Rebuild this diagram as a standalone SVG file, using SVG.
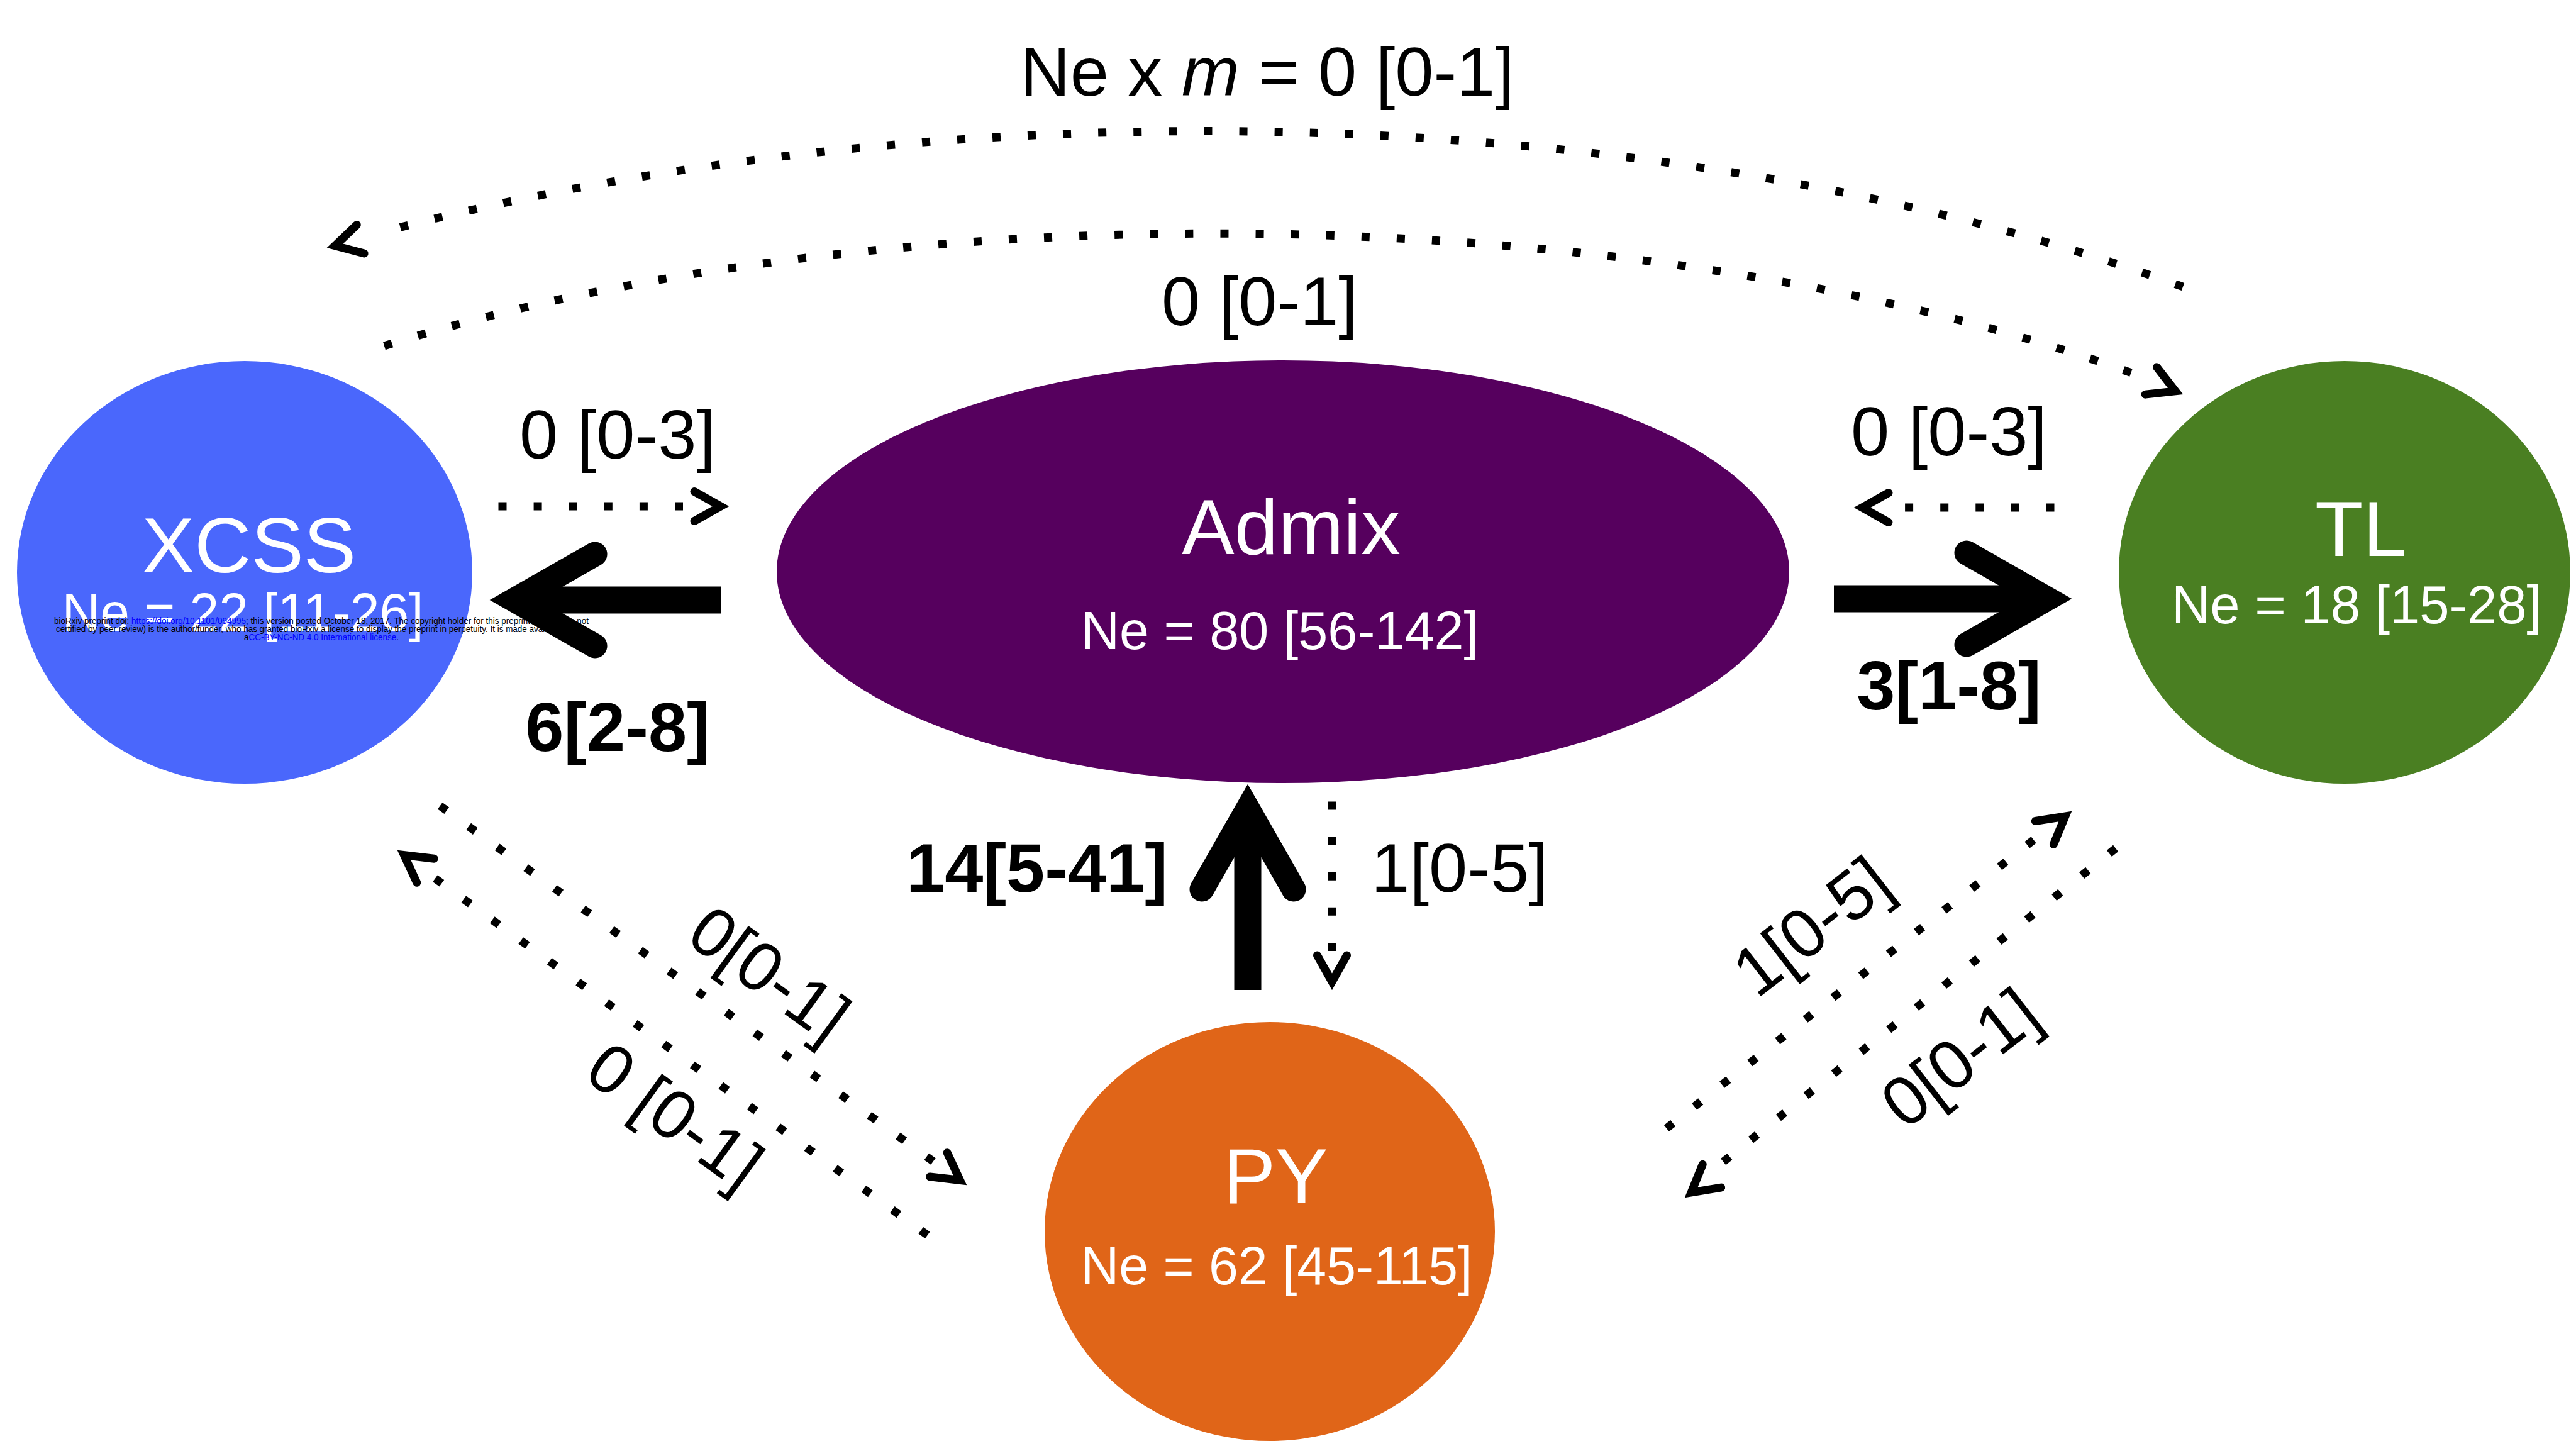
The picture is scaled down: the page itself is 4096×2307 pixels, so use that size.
<svg xmlns="http://www.w3.org/2000/svg" xmlns:xlink="http://www.w3.org/1999/xlink" width="4096" height="2307" viewBox="0 0 4096 2307">
  <style>
    .lbl { font-family: "Liberation Sans", Arial, sans-serif; fill: #000; }
    .reg { font-size: 110px; }
    .bold { font-size: 110px; font-weight: bold; }
    .ntitle { font-family: "Liberation Sans", Arial, sans-serif; fill: #fff; font-size: 125px; text-anchor: middle; }
    .nsub { font-family: "Liberation Sans", Arial, sans-serif; fill: #fff; font-size: 86px; text-anchor: middle; }
    .dot { fill: none; stroke: #000; stroke-width: 13; stroke-dasharray: 13 43.1; }
    .shaft { fill: none; stroke: #000; stroke-width: 43; }
    .hthick { fill: none; stroke: #000; stroke-width: 39; stroke-linejoin: miter; stroke-linecap: round; }
    .hthin { fill: none; stroke: #000; stroke-width: 13; stroke-linejoin: miter; stroke-linecap: round; }
    .wm { font-family: "Liberation Sans", Arial, sans-serif; font-size: 15px; fill: #000; text-anchor: middle; }
    .link { fill: #0000ff; }
  </style>
  <defs>
    <path id="hThick" class="hthick" d="M-167,-73 L-39,0 L-167,73"/>
    <path id="hThin" class="hthin" d="M-55,-23.5 L-13,0 L-55,23.5"/>
  </defs>
  <rect width="4096" height="2307" fill="#fff"/>

  <g id="node-xcss">
    <ellipse cx="389" cy="910" rx="362" ry="336" fill="#4a67fc"/>
    <text class="ntitle" x="396" y="910">XCSS</text>
    <text class="nsub" x="386" y="1003" font-size="89" textLength="575" lengthAdjust="spacingAndGlyphs">Ne = 22 [11-26]</text>
  </g>
  <g id="node-admix">
    <ellipse cx="2040" cy="909" rx="805" ry="336" fill="#56005e"/>
    <text class="ntitle" x="2053" y="881">Admix</text>
    <text class="nsub" x="2035" y="1032" textLength="632" lengthAdjust="spacingAndGlyphs">Ne = 80 [56-142]</text>
  </g>
  <g id="node-tl">
    <ellipse cx="3728" cy="910" rx="359" ry="336" fill="#4a7f22"/>
    <text class="ntitle" x="3754" y="884">TL</text>
    <text class="nsub" x="3747" y="991" textLength="588" lengthAdjust="spacingAndGlyphs">Ne = 18 [15-28]</text>
  </g>
  <g id="node-py">
    <ellipse cx="2019" cy="1958" rx="358" ry="333" fill="#e06518"/>
    <text class="ntitle" x="2028" y="1913">PY</text>
    <text class="nsub" x="2030" y="2042" textLength="623" lengthAdjust="spacingAndGlyphs">Ne = 62 [45-115]</text>
  </g>

  <g id="watermark">
    <text class="wm" x="511" y="992" textLength="850" lengthAdjust="spacingAndGlyphs">bioRxiv preprint doi: <tspan class="link">https://doi.org/10.1101/094995</tspan>; this version posted October 18, 2017. The copyright holder for this preprint (which was not</text>
    <text class="wm" x="511" y="1005" textLength="844" lengthAdjust="spacingAndGlyphs">certified by peer review) is the author/funder, who has granted bioRxiv a license to display the preprint in perpetuity. It is made available under</text>
    <text class="wm" x="511" y="1018" textLength="246" lengthAdjust="spacingAndGlyphs">a<tspan class="link">CC-BY-NC-ND 4.0 International license</tspan>.</text>
  </g>

  <g id="connectors">
    <!-- top arcs -->
    <path class="dot" d="M3471,456 C2620,146 1470,138 596,372"/>
    <use xlink:href="#hThin" transform="translate(520,394) rotate(165.5)"/>
    <path class="dot" d="M611,550 C1403,300 2612,310 3392,594"/>
    <use xlink:href="#hThin" transform="translate(3471,627) rotate(23)"/>
    <!-- horizontal dotted -->
    <path class="dot" d="M792.5,805 L1087,805"/>
    <use xlink:href="#hThin" transform="translate(1159,805)"/>
    <path class="dot" d="M3266.5,807 L3028,807"/>
    <use xlink:href="#hThin" transform="translate(2948,807) rotate(180)"/>
    <!-- thick arrows -->
    <path class="shaft" d="M1147,954 L839,954"/>
    <use xlink:href="#hThick" transform="translate(779,954) rotate(180)"/>
    <path class="shaft" d="M2916,952 L3234,952"/>
    <use xlink:href="#hThick" transform="translate(3294,952)"/>
    <path class="shaft" d="M1984,1574 L1984,1307"/>
    <use xlink:href="#hThick" transform="translate(1984,1247) rotate(-90)"/>
    <!-- vertical dotted -->
    <path class="dot" d="M2118,1274.5 L2118,1513"/>
    <use xlink:href="#hThin" transform="translate(2118,1574) rotate(90)"/>
    <!-- left diagonals -->
    <path class="dot" d="M699.7,1281.2 L1484.3,1846.8"/>
    <use xlink:href="#hThin" transform="translate(1537,1884) rotate(35.8)"/>
    <path class="dot" d="M1474.8,1963.8 L691.2,1396.2"/>
    <use xlink:href="#hThin" transform="translate(632,1352) rotate(215.9)"/>
    <!-- right diagonals -->
    <path class="dot" d="M2649.9,1794 L3234.1,1335"/>
    <use xlink:href="#hThin" transform="translate(3294,1290) rotate(-38.2)"/>
    <path class="dot" d="M3364.1,1348.9 L2733.9,1852.1"/>
    <use xlink:href="#hThin" transform="translate(2679,1904) rotate(141.4)"/>
  </g>

  <g id="labels">
    <text class="lbl reg" x="2015" y="152" text-anchor="middle">Ne x <tspan font-style="italic">m</tspan> = 0 [0-1]</text>
    <text class="lbl reg" x="2003" y="517" text-anchor="middle">0 [0-1]</text>
    <text class="lbl reg" x="982" y="729" text-anchor="middle">0 [0-3]</text>
    <text class="lbl reg" x="3099" y="724" text-anchor="middle">0 [0-3]</text>
    <text class="lbl bold" x="982" y="1194" text-anchor="middle">6[2-8]</text>
    <text class="lbl bold" x="3099" y="1128" text-anchor="middle">3[1-8]</text>
    <text class="lbl bold" x="1649" y="1418" text-anchor="middle">14[5-41]</text>
    <text class="lbl reg" x="2321" y="1418" text-anchor="middle">1[0-5]</text>
    <text class="lbl reg" text-anchor="middle" transform="translate(1224,1547) rotate(36)" y="39">0[0-1]</text>
    <text class="lbl reg" text-anchor="middle" transform="translate(1074,1773) rotate(36)" y="39">0 [0-1]</text>
    <text class="lbl reg" text-anchor="middle" transform="translate(2880,1472) rotate(-38)" y="39">1[0-5]</text>
    <text class="lbl reg" text-anchor="middle" transform="translate(3116,1681) rotate(-38)" y="39">0[0-1]</text>
  </g>
</svg>
